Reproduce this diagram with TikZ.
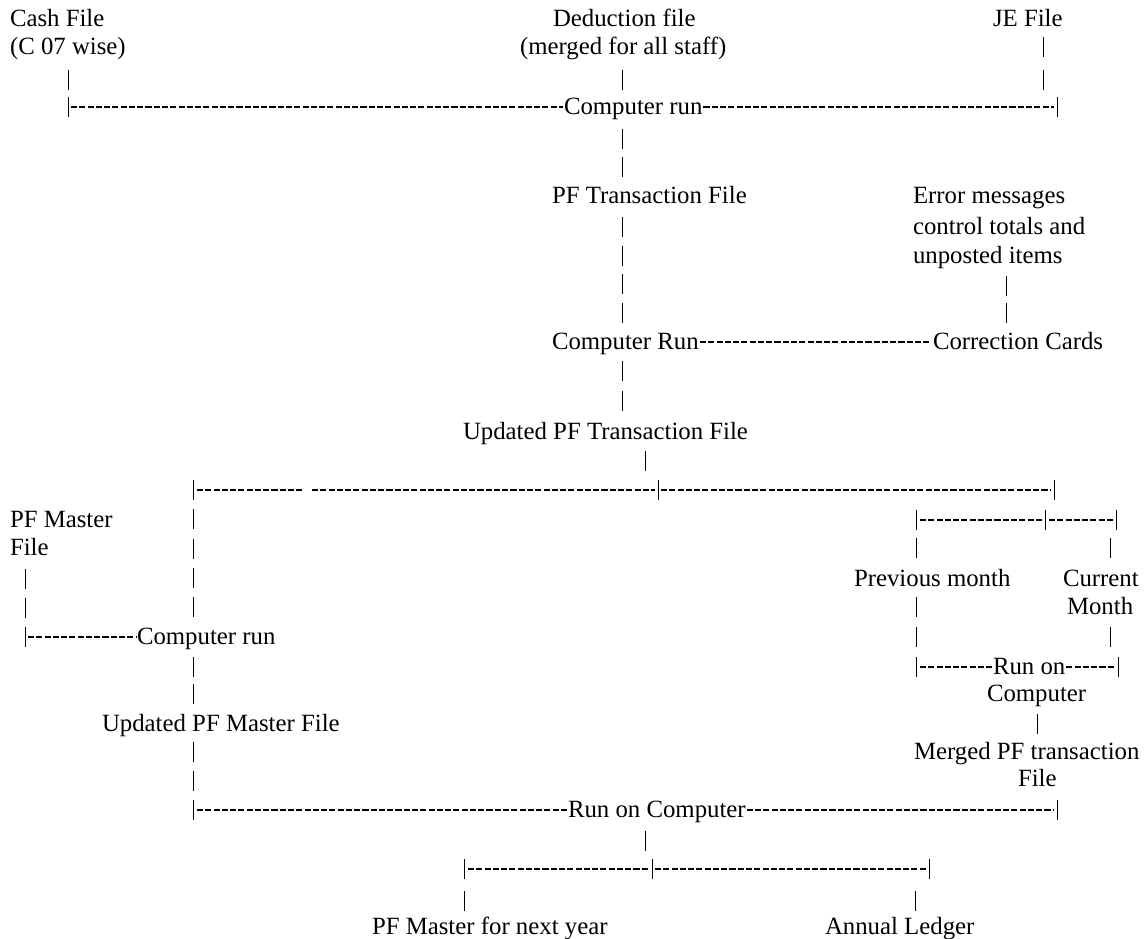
\documentclass[tikz,border=0pt]{standalone}
\usepackage{fontspec}
\setmainfont{Liberation Serif}
\newcommand\fs{\fontsize{24.8}{30}\selectfont}
\tikzset{
  lbl/.style={font=\fs, inner sep=0pt, outer sep=0pt, anchor=base west},
  bar/.style={line width=0.9pt, black},
  hl/.style={line width=1.3pt, black, dash pattern=on 6.1pt off 2.17pt}
}
% vertical run of pipe characters: x, first row, last row, count
\newcommand\pipes[4]{%
  \pgfmathsetmacro\pgap{(#4>1)?((#3-#2)/max(#4-1,1)-20):10}%
  \draw[bar,dash pattern=on 20pt off \pgap pt] (#1,#2-10) -- (#1,#3+10);}
\begin{document}
\begin{tikzpicture}[x=1pt,y=-1pt]
\path[fill=white] (0,0) rectangle (1148,939);
\useasboundingbox (0,0) rectangle (1148,939);

% ---------- text nodes ----------
\node[lbl] (cash1) at (10,27) {Cash File};
\node[lbl] (cash2) at (10,55) {(C 07 wise)};
\node[lbl] (ded1) at (553,27) {Deduction file};
\node[lbl] (ded2) at (520,55) {(merged for all staff)};
\node[lbl] (je) at (993,27) {JE File};
\node[lbl] (run1) at (564,114) {Computer run};
\node[lbl] (pft) at (552,203) {PF Transaction File};
\node[lbl] (err1) at (913,203) {Error messages};
\node[lbl] (err2) at (913,234) {control totals and};
\node[lbl] (err3) at (913,263) {unposted items};
\node[lbl] (run2) at (552,349) {Computer Run};
\node[lbl] (cc) at (933,349) {Correction Cards};
\node[lbl] (upt) at (463,439) {Updated PF Transaction File};
\node[lbl] (pfm1) at (10,527) {PF Master};
\node[lbl] (pfm2) at (10,555) {File};
\node[lbl] (run3) at (137,644) {Computer run};
\node[lbl] (upm) at (102,731) {Updated PF Master File};
\node[lbl] (prev) at (854,586) {Previous month};
\node[lbl] (cur1) at (1063,586) {Current};
\node[lbl] (cur2) at (1067,614) {Month};
\node[lbl] (runon) at (993,674) {Run on};
\node[lbl] (comp) at (987,701) {Computer};
\node[lbl] (mrg1) at (914,759) {Merged PF transaction};
\node[lbl] (mrg2) at (1018,786) {File};
\node[lbl] (run4) at (568,817) {Run on Computer};
\node[lbl] (nexty) at (372,934) {PF Master for next year};
\node[lbl] (ledger) at (825,934) {Annual Ledger};

% ---------- junction coordinates ----------
\coordinate (j1) at (68,107);
\coordinate (j2) at (1057,107);
\coordinate (j3) at (193,490);
\coordinate (j4) at (658,490);
\coordinate (j5) at (1054,490);
\coordinate (j6) at (916,520);
\coordinate (j7) at (1045,520);
\coordinate (j8) at (1116,520);
\coordinate (j9) at (25,637);
\coordinate (j10) at (916,667);
\coordinate (j11) at (1118,667);
\coordinate (j12) at (193,810);
\coordinate (j13) at (1057,810);
\coordinate (j14) at (464,869);
\coordinate (j15) at (652,869);
\coordinate (j16) at (929,869);

% ---------- vertical pipes ----------
\pipes{68}{80}{107}{2}
\pipes{622}{80}{80}{1}
\pipes{1043}{47}{80}{2}
\draw[bar] ([yshift=-10pt]j2) -- ([yshift=10pt]j2);
\pipes{622}{139}{167}{2}
\pipes{622}{227}{313}{4}
\pipes{1006}{286}{313}{2}
\pipes{622}{371}{401}{2}
\pipes{645}{461}{461}{1}
\pipes{193}{490}{607}{5}
\draw[bar] ([yshift=-10pt]j4) -- ([yshift=10pt]j4);
\draw[bar] ([yshift=-10pt]j5) -- ([yshift=10pt]j5);
\pipes{193}{667}{694}{2}
\pipes{193}{752}{810}{3}
\pipes{25}{579}{637}{3}
\pipes{916}{520}{548}{2}
\draw[bar] ([yshift=-10pt]j7) -- ([yshift=10pt]j7);
\draw[bar] ([yshift=-10pt]j8) -- ([yshift=10pt]j8);
\pipes{1110}{548}{548}{1}
\pipes{916}{607}{667}{3}
\pipes{1110}{637}{637}{1}
\draw[bar] ([yshift=-10pt]j11) -- ([yshift=10pt]j11);
\pipes{1037}{724}{724}{1}
\draw[bar] ([yshift=-10pt]j13) -- ([yshift=10pt]j13);
\pipes{645}{841}{841}{1}
\pipes{464}{869}{901}{2}
\draw[bar] ([yshift=-10pt]j15) -- ([yshift=10pt]j15);
\draw[bar] ([yshift=-10pt]j16) -- ([yshift=10pt]j16);
\pipes{915}{901}{901}{1}

% ---------- dashed (hyphen) runs ----------
\draw[hl] ([xshift=3pt]j1) -- ([xshift=-1pt]j1 -| run1.west);
\draw[hl] ([xshift=1pt]j1 -| run1.east) -- ([xshift=-3pt]j2);
\draw[hl] (700,342) -- (931,342);
\draw[hl] ([xshift=4pt]j3) -- (302,490);
\draw[hl] (312,490) -- ([xshift=-3pt]j4);
\draw[hl] ([xshift=3pt]j4) -- ([xshift=-3pt]j5);
\draw[hl] ([xshift=4pt]j6) -- ([xshift=-3pt]j7);
\draw[hl] ([xshift=4pt]j7) -- ([xshift=-3pt]j8);
\draw[hl] ([xshift=3pt]j9) -- ([xshift=-1pt]j9 -| run3.west);
\draw[hl] ([xshift=4pt]j10) -- ([xshift=-1pt]j10 -| runon.west);
\draw[hl] ([xshift=1pt]j10 -| runon.east) -- ([xshift=-3pt]j11);
\draw[hl] ([xshift=4pt]j12) -- ([xshift=-1pt]j12 -| run4.west);
\draw[hl] ([xshift=1pt]j12 -| run4.east) -- ([xshift=-3pt]j13);
\draw[hl] ([xshift=4pt]j14) -- ([xshift=-3pt]j15);
\draw[hl] ([xshift=3pt]j15) -- ([xshift=-3pt]j16);
\end{tikzpicture}
\end{document}
